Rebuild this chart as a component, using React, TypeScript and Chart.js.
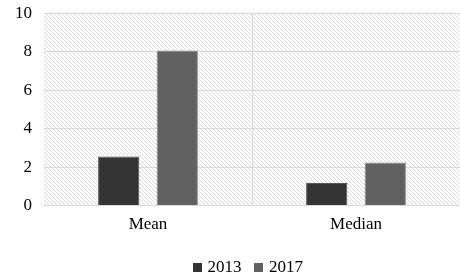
import React, { useEffect, useRef } from "react";
import { Chart, registerables } from "chart.js";

Chart.register(...registerables);

const categories = ["Mean", "Median"];
const series2013 = [2.55, 1.18];
const series2017 = [8.06, 2.24];
const seriesLabels = ["2013", "2017"];
const seriesColors = ["#333333", "#616161"];
const seriesBorders = ["#555555", "#8a8a8a"];
const yTicks = [0, 2, 4, 6, 8, 10];

const FONT = "'Liberation Serif', 'Times New Roman', serif";
const FS = 17;
const CANVAS_H = 286;

function makePattern(): CanvasPattern | string {
  const c = document.createElement("canvas");
  c.width = 4;
  c.height = 4;
  const ctx = c.getContext("2d");
  if (!ctx) return "#f4f4f4";
  ctx.fillStyle = "#ffffff";
  ctx.fillRect(0, 0, 4, 4);
  ctx.fillStyle = "#dcdcdc";
  for (let i = 0; i < 4; i++) ctx.fillRect(i, i, 1, 1);
  const p = ctx.createPattern(c, "repeat");
  return p || "#f4f4f4";
}

function makeSwatch(color: string): HTMLCanvasElement {
  const c = document.createElement("canvas");
  c.width = 9;
  c.height = 9;
  const ctx = c.getContext("2d");
  if (ctx) {
    ctx.fillStyle = color;
    ctx.fillRect(0, 0, 9, 9);
  }
  return c;
}

const hatchPlugin = {
  id: "hatchBg",
  beforeDraw(chart: any) {
    const { ctx, chartArea } = chart;
    if (!chartArea) return;
    ctx.save();
    ctx.fillStyle = makePattern();
    ctx.fillRect(chartArea.left, chartArea.top, chartArea.right - chartArea.left, chartArea.bottom - chartArea.top);
    ctx.restore();
  },
};

const legendShiftPlugin = {
  id: "legendShift",
  afterLayout(chart: any) {
    const lg = chart.legend;
    if (!lg) return;
    lg.left += 13;
    lg.right += 13;
  },
};

export default function App() {
  const ref = useRef<HTMLCanvasElement | null>(null);
  useEffect(() => {
    if (!ref.current) return;
    const swatches = seriesColors.map(makeSwatch);
    const chart = new Chart(ref.current, {
      type: "bar",
      data: {
        labels: categories,
        datasets: [
          {
            label: seriesLabels[0],
            data: series2013,
            backgroundColor: seriesColors[0],
            borderColor: seriesBorders[0],
            borderWidth: 1,
            categoryPercentage: 0.563,
            barPercentage: 0.705,
          },
          {
            label: seriesLabels[1],
            data: series2017,
            backgroundColor: seriesColors[1],
            borderColor: seriesBorders[1],
            borderWidth: 1,
            categoryPercentage: 0.563,
            barPercentage: 0.705,
          },
        ],
      },
      options: {
        animation: false,
        responsive: false,
        maintainAspectRatio: false,
        layout: { padding: { top: 0, right: 0, left: 12, bottom: 0 } },
        plugins: {
          tooltip: { enabled: false },
          legend: {
            position: "bottom",
            labels: {
              usePointStyle: true,
              pointStyleWidth: 4,
              boxHeight: 9,
              padding: 15,
              color: "#000000",
              font: { family: FONT, size: FS },
              generateLabels: (ch: any) => {
                const items = Chart.defaults.plugins.legend.labels.generateLabels(ch);
                return items.map((it: any, i: number) => ({ ...it, pointStyle: swatches[i % swatches.length] }));
              },
            },
          },
        },
        scales: {
          x: {
            grid: {
              display: true,
              offset: true,
              drawTicks: false,
              color: (c: any) => (c.index === 1 ? "#d9d9d9" : "rgba(0,0,0,0)"),
            },
            border: { display: true, color: "#d9d9d9" },
            ticks: {
              padding: 9,
              color: "#000000",
              font: { family: FONT, size: FS },
            },
          },
          y: {
            min: 0,
            max: 10,
            afterBuildTicks: (axis: any) => {
              axis.ticks = yTicks.map((v) => ({ value: v }));
            },
            grid: { color: "#d9d9d9", drawTicks: true, tickLength: 9, tickColor: "rgba(0,0,0,0)" },
            border: { display: false },
            ticks: {
              padding: 3,
              color: "#000000",
              font: { family: FONT, size: FS },
            },
          },
        },
      },
      plugins: [hatchPlugin, legendShiftPlugin],
    });
    return () => chart.destroy();
  }, []);
  return (
    <div style={{ position: "absolute", left: 0, top: 0, width: 460, height: 273, overflow: "hidden" }}>
      <canvas ref={ref} width={460} height={CANVAS_H} style={{ width: 460, height: CANVAS_H, display: "block" }} />
    </div>
  );
}
